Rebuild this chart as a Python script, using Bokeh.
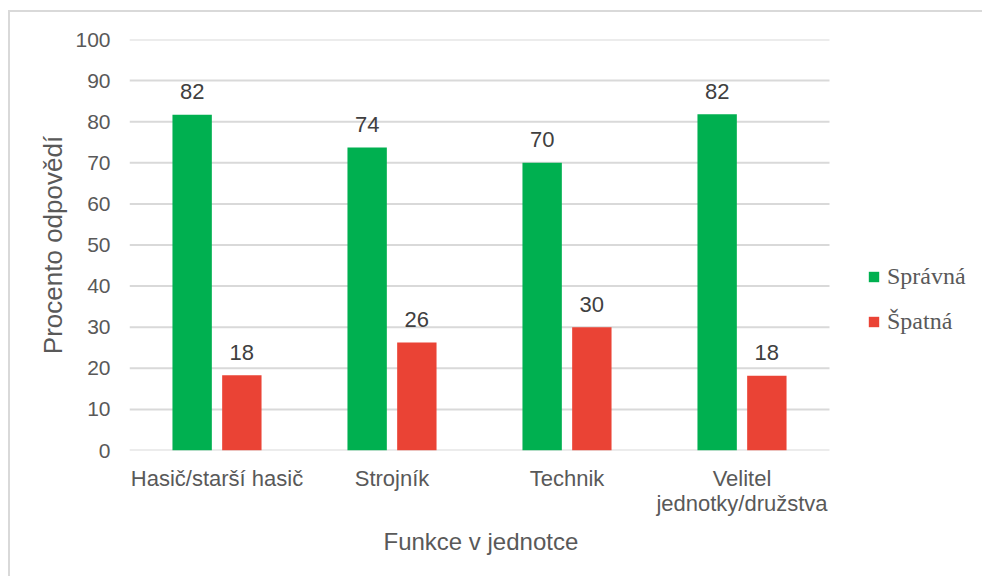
from bokeh.plotting import figure
from bokeh.models import ColumnDataSource, Range1d, Legend, LegendItem, FixedTicker, Title
from bokeh.transform import dodge
from bokeh.core.properties import value
from bokeh.embed import file_html
from bokeh.resources import INLINE

categories = ["Hasič/starší hasič", "Strojník", "Technik", "Velitel\njednotky/družstva"]
spravna = [81.7, 73.7, 70.0, 81.8]
spatna = [18.3, 26.3, 30.0, 18.2]
y_ticks = [0, 10, 20, 30, 40, 50, 60, 70, 80, 90, 100]
series_names = ["Správná", "Špatná"]
colors = ["#00B050", "#EA4335"]
x_title = "Funkce v jednotce"
y_title = "Procento odpovědí"

n = len(categories)
xc = [i + 0.5 for i in range(n)]

src = ColumnDataSource(dict(
    xc=xc,
    spravna=spravna,
    spatna=spatna,
    spravna_lbl=[str(int(round(v))) for v in spravna],
    spatna_lbl=[str(int(round(v))) for v in spatna],
))
grid_src = ColumnDataSource(dict(y=y_ticks, x0=[0] * len(y_ticks), x1=[n] * len(y_ticks)))

FONT = "Liberation Sans"
W, H = 974, 566
ML, MT, MB = 119, 27, 128
CAT_PX = 175
x_end = (W - ML) / CAT_PX

p = figure(x_range=Range1d(0, x_end), y_range=Range1d(0, 100),
           width=W, height=H, output_backend="svg", toolbar_location=None,
           min_border_left=ML, min_border_right=0, min_border_top=MT, min_border_bottom=MB)
p.styles = {"margin-left": "8px", "margin-top": "10px",
            "border-top": "2px solid #d9d9d9", "border-left": "2px solid #d9d9d9"}
p.outline_line_color = None
p.xgrid.visible = False
p.ygrid.visible = False

p.segment(x0="x0", x1="x1", y0="y", y1="y", source=grid_src, line_color="#d9d9d9", line_width=2)

r1 = p.vbar(x=dodge("xc", -0.142), top="spravna", width=0.225, source=src,
            fill_color=colors[0], line_color=None)
r2 = p.vbar(x=dodge("xc", 0.142), top="spatna", width=0.225, source=src,
            fill_color=colors[1], line_color=None)

p.text(x=dodge("xc", -0.142), y="spravna", text="spravna_lbl", source=src,
       text_align="center", text_baseline="alphabetic", y_offset=-23,
       text_font=value(FONT), text_font_size="22px", text_color="#404040")
p.text(x=dodge("xc", 0.142), y="spatna", text="spatna_lbl", source=src,
       text_align="center", text_baseline="alphabetic", y_offset=-23,
       text_font=value(FONT), text_font_size="22px", text_color="#404040")

p.yaxis.ticker = FixedTicker(ticks=y_ticks)
p.yaxis.axis_line_color = None
p.yaxis.major_tick_line_color = None
p.yaxis.minor_tick_line_color = None
p.yaxis.major_label_standoff = 13
p.yaxis.major_label_text_font = FONT
p.yaxis.major_label_text_font_size = "21px"
p.yaxis.major_label_text_color = "#595959"
p.yaxis.axis_label = y_title
p.yaxis.axis_label_text_font = FONT
p.yaxis.axis_label_text_font_size = "26px"
p.yaxis.axis_label_text_font_style = "normal"
p.yaxis.axis_label_text_color = "#595959"
p.yaxis.axis_label_standoff = 4

p.xaxis.ticker = FixedTicker(ticks=xc)
p.xaxis.major_label_overrides = {x: c for x, c in zip(xc, categories)}
p.xaxis.axis_line_color = None
p.xaxis.major_tick_line_color = None
p.xaxis.minor_tick_line_color = None
p.xaxis.major_label_standoff = 9
p.xaxis.major_label_text_font = FONT
p.xaxis.major_label_text_font_size = "22px"
p.xaxis.major_label_text_line_height = 1.0
p.xaxis.major_label_text_color = "#595959"

# x-axis title, centred under the bar area (not the whole frame)
xt = Title(text=x_title, align="left", offset=254, standoff=14,
           text_font=FONT, text_font_size="24px", text_font_style="normal",
           text_color="#595959")
p.add_layout(xt, "below")

legend = Legend(items=[LegendItem(label=series_names[0], renderers=[r1]),
                       LegendItem(label=series_names[1], renderers=[r2])],
                location=(738, 115), orientation="vertical",
                label_text_font="Liberation Serif", label_text_font_size="24px",
                label_text_color="#595959", glyph_width=13, glyph_height=13,
                label_standoff=7, spacing=18, padding=0, margin=0,
                border_line_color=None, background_fill_alpha=0)
p.add_layout(legend, "center")

open("out.html", "w").write(file_html(p, INLINE))
